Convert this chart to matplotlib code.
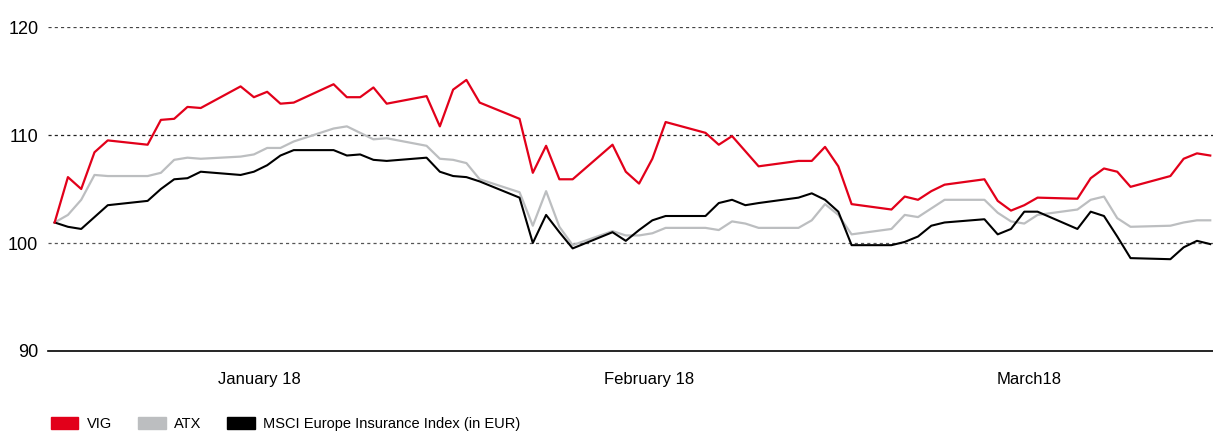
import matplotlib
matplotlib.use("Agg")
import matplotlib.pyplot as plt
import matplotlib.dates as mdates
from matplotlib.patches import Patch
import pandas as pd

# trading days Jan 1 - Mar 29 2018, index values
days = pd.bdate_range("2018-01-01", "2018-03-29")

vig = [101.9, 106.1, 105.0, 108.4, 109.5,
       109.1, 111.4, 111.5, 112.6, 112.5,
       114.5, 113.5, 114.0, 112.9, 113.0,
       114.7, 113.5, 113.5, 114.4, 112.9,
       113.6, 110.8, 114.2, 115.1, 113.0,
       111.5, 106.5, 109.0, 105.9, 105.9,
       109.1, 106.6, 105.5, 107.8, 111.2,
       110.2, 109.1, 109.9, 108.5, 107.1,
       107.6, 107.6, 108.9, 107.1, 103.6,
       103.1, 104.3, 104.0, 104.8, 105.4,
       105.9, 103.9, 103.0, 103.5, 104.2,
       104.1, 106.0, 106.9, 106.6, 105.2,
       106.2, 107.8, 108.3, 108.1]

atx = [101.9, 102.6, 104.0, 106.3, 106.2,
       106.2, 106.5, 107.7, 107.9, 107.8,
       108.0, 108.2, 108.8, 108.8, 109.4,
       110.6, 110.8, 110.2, 109.6, 109.7,
       109.0, 107.8, 107.7, 107.4, 105.9,
       104.7, 101.6, 104.8, 101.5, 99.8,
       101.1, 100.7, 100.7, 100.9, 101.4,
       101.4, 101.2, 102.0, 101.8, 101.4,
       101.4, 102.1, 103.6, 102.6, 100.8,
       101.3, 102.6, 102.4, 103.2, 104.0,
       104.0, 102.8, 102.0, 101.8, 102.6,
       103.1, 104.0, 104.3, 102.3, 101.5,
       101.6, 101.9, 102.1, 102.1]

msci = [101.9, 101.5, 101.3, 102.4, 103.5,
        103.9, 105.0, 105.9, 106.0, 106.6,
        106.3, 106.6, 107.2, 108.1, 108.6,
        108.6, 108.1, 108.2, 107.7, 107.6,
        107.9, 106.6, 106.2, 106.1, 105.7,
        104.2, 100.0, 102.6, 101.0, 99.5,
        101.0, 100.2, 101.2, 102.1, 102.5,
        102.5, 103.7, 104.0, 103.5, 103.7,
        104.2, 104.6, 104.0, 102.9, 99.8,
        99.8, 100.1, 100.6, 101.6, 101.9,
        102.2, 100.8, 101.3, 102.9, 102.9,
        101.3, 102.9, 102.5, 100.6, 98.6,
        98.5, 99.6, 100.2, 99.9]

month_ticks = pd.to_datetime(["2018-01-16 10:00", "2018-02-14 18:00", "2018-03-15 08:00"])
month_labels = ["January 18", "February 18", "March18"]

RED = "#e2001a"
GREY = "#bcbec0"
BLACK = "#000000"

plt.rcParams["font.family"] = ["Liberation Sans", "DejaVu Sans"]

fig = plt.figure(figsize=(12.13, 4.33), dpi=100)
ax = fig.add_axes([48 / 1213, 1 - 351 / 433, 1 - 48 / 1213, 324 / 433])

ax.plot(days, atx, color=GREY, lw=1.6, zorder=3)
ax.plot(days, msci, color=BLACK, lw=1.5, zorder=4)
ax.plot(days, vig, color=RED, lw=1.6, zorder=5)

ax.set_ylim(90, 120)
ax.set_xlim(pd.Timestamp("2018-01-01") - pd.Timedelta(hours=12),
            pd.Timestamp("2018-03-29") + pd.Timedelta(hours=5))

for y, c in [(100, "#555555"), (110, "#222222"), (120, "#444444")]:
    ax.axhline(y, color=c, lw=0.9, ls=(0, (2.5, 2.5)), zorder=1)

ax.set_yticks([90, 100, 110, 120])
ax.set_xticks(month_ticks)
ax.set_xticklabels(month_labels)
ax.tick_params(axis="y", length=0, pad=7, labelsize=13)
ax.tick_params(axis="x", length=0, pad=15, labelsize=12)

for s in ["top", "right", "left"]:
    ax.spines[s].set_visible(False)
ax.spines["bottom"].set_linewidth(1.2)
ax.spines["bottom"].set_color("black")

handles = [Patch(color=RED, label="VIG"),
           Patch(color=GREY, label="ATX"),
           Patch(color=BLACK, label="MSCI Europe Insurance Index (in EUR)")]
leg = fig.legend(handles=handles, loc="lower left", bbox_to_anchor=(0.031, -0.026),
                 ncol=3, frameon=False, handlelength=1.9, handleheight=0.95,
                 handletextpad=0.55, columnspacing=1.8,
                 prop={"family": ["Liberation Sans Narrow", "Liberation Sans"], "size": 10.5})

fig.savefig("out.png", dpi=100)
